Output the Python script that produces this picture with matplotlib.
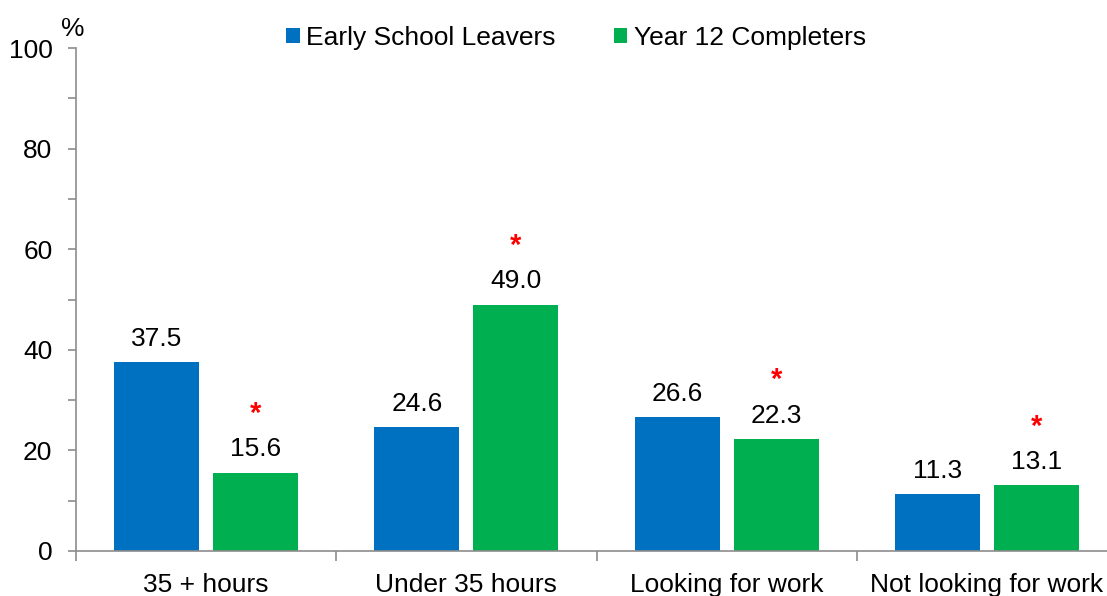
import matplotlib
matplotlib.use("Agg")
import matplotlib.pyplot as plt
from matplotlib.ticker import FixedLocator, MultipleLocator
import numpy as np

plt.rcParams["font.family"] = ["Liberation Sans", "DejaVu Sans"]

categories = ["35 + hours", "Under 35 hours", "Looking for work", "Not looking for work"]
early_leavers = [37.5, 24.6, 26.6, 11.3]
year12 = [15.6, 49.0, 22.3, 13.1]
year12_signif = [True, True, True, True]

BLUE = "#0070C0"
GREEN = "#00B050"
AXIS_GREY = "#8C8C8C"
FS = 19

fig = plt.figure(figsize=(11.07, 5.96), dpi=100)
ax = fig.add_axes([76 / 1107, 45 / 596, (1107 - 76) / 1107, (551 - 48) / 596])

x = np.arange(len(categories))
w = 0.327
off = 0.19
b1 = ax.bar(x - off, early_leavers, w, color=BLUE, label="Early School Leavers")
b2 = ax.bar(x + off, year12, w, color=GREEN, label="Year 12 Completers")

for bar, v in zip(b1, early_leavers):
    ax.annotate(f"{v:.1f}", (bar.get_x() + bar.get_width() / 2, v),
                xytext=(0, 8), textcoords="offset points",
                ha="center", va="bottom", fontsize=FS)
for bar, v, s in zip(b2, year12, year12_signif):
    cx = bar.get_x() + bar.get_width() / 2
    ax.annotate(f"{v:.1f}", (cx, v), xytext=(0, 8), textcoords="offset points",
                ha="center", va="bottom", fontsize=FS)
    if s:
        # significance marker
        ax.annotate("*", (cx, v), xytext=(0, 32), textcoords="offset points",
                    ha="center", va="bottom", fontsize=21, color="red", fontweight="bold")

ax.set_ylim(0, 100)
ax.set_xlim(-0.5, (1107 - 207) / 260)
ax.yaxis.set_major_locator(MultipleLocator(20))
ax.yaxis.set_minor_locator(MultipleLocator(10))
ax.tick_params(axis="y", which="both", direction="out", length=6, width=1.2,
               color=AXIS_GREY, labelsize=FS, pad=11)

ax.xaxis.set_major_locator(FixedLocator([-0.5, 0.5, 1.5, 2.5]))
ax.xaxis.set_minor_locator(FixedLocator(x))
ax.set_xticklabels([], minor=False)
ax.set_xticklabels(categories, minor=True)
ax.tick_params(axis="x", which="major", direction="out", length=7, width=1.2, color=AXIS_GREY)
ax.tick_params(axis="x", which="minor", length=0, labelsize=FS, pad=16)

for sp in ["top", "right"]:
    ax.spines[sp].set_visible(False)
for sp in ["left", "bottom"]:
    ax.spines[sp].set_color(AXIS_GREY)
    ax.spines[sp].set_linewidth(1.2)

fig.text(73 / 1107, 1 - 29 / 596, "%", fontsize=FS, ha="center", va="center")

ax.legend(loc="center", bbox_to_anchor=(576 / 1107, 1 - 38 / 596), bbox_transform=fig.transFigure,
          ncol=2, frameon=False, fontsize=FS, handlelength=0.5, handleheight=0.5,
          handletextpad=0.25, columnspacing=2.2, borderpad=0)

fig.savefig("out.png", dpi=100)
